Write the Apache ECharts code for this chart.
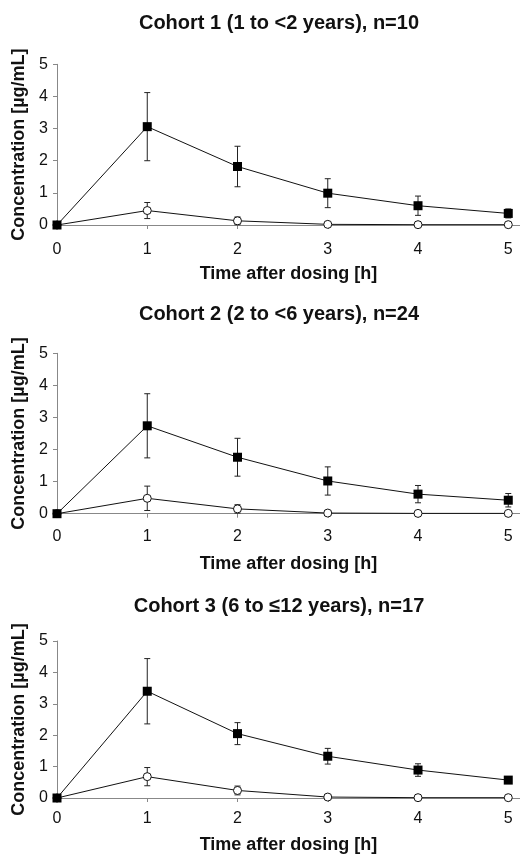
<!DOCTYPE html>
<html>
<head>
<meta charset="utf-8">
<script src="https://cdn.jsdelivr.net/npm/echarts@6/dist/echarts.min.js"></script>
<style>
html,body{margin:0;padding:0;background:#fff;}
#chart{width:520px;height:855px;}
</style>
</head>
<body>
<div id="chart"></div>
<script>
// ---- Data ----
const times = [0, 1, 2, 3, 4, 5];
const titles = [
  "Cohort 1 (1 to <2 years), n=10",
  "Cohort 2 (2 to <6 years), n=24",
  "Cohort 3 (6 to \u226412 years), n=17"
];
// filled squares: mean and SD
const sqMean1 = [0, 3.06, 1.82, 0.99, 0.60, 0.36];
const sqSD1   = [0, 1.06, 0.63, 0.45, 0.30, 0.14];
const ciMean1 = [0, 0.45, 0.13, 0.02, 0.01, 0.01];
const ciSD1   = [0, 0.25, 0.12, 0, 0, 0];

const sqMean2 = [0, 2.74, 1.76, 1.02, 0.61, 0.42];
const sqSD2   = [0, 1.00, 0.59, 0.44, 0.27, 0.21];
const ciMean2 = [0, 0.48, 0.15, 0.02, 0.01, 0.01];
const ciSD2   = [0, 0.38, 0.13, 0, 0, 0];

const sqMean3 = [0, 3.40, 2.05, 1.33, 0.89, 0.57];
const sqSD3   = [0, 1.04, 0.35, 0.25, 0.20, 0.05];
const ciMean3 = [0, 0.68, 0.24, 0.03, 0.01, 0.01];
const ciSD3   = [0, 0.29, 0.14, 0, 0, 0];

const yTicks = [0, 1, 2, 3, 4, 5];
const xTicks = [0, 1, 2, 3, 4, 5];
const yTitle = "Concentration [\u00b5g/mL]";
const xTitle = "Time after dosing [h]";

const panels = [
  {sq: sqMean1, sqSD: sqSD1, ci: ciMean1, ciSD: ciSD1},
  {sq: sqMean2, sqSD: sqSD2, ci: ciMean2, ciSD: ciSD2},
  {sq: sqMean3, sqSD: sqSD3, ci: ciMean3, ciSD: ciSD3}
];

// ---- Layout ----
const layout = [
  {titleY: 22, top: 64.3, bottom: 225, lblMargin: 17, nameGap: 40},
  {titleY: 313, top: 353.3, bottom: 513.7, lblMargin: 15, nameGap: 41},
  {titleY: 605, top: 641, bottom: 801, lblMargin: 13, nameGap: 38}
];
const FONT = "Liberation Sans, Arial, sans-serif";

const chart = echarts.init(document.getElementById('chart'), null, {renderer: 'canvas'});

const option = {
  backgroundColor: '#fff',
  animation: false,
  title: [], grid: [], xAxis: [], yAxis: [], series: []
};

function errRender(params, api) {
  const x = api.value(0), lo = api.value(1), hi = api.value(2);
  if (hi - lo <= 0) return null;
  const pLo = api.coord([x, lo]);
  const pHi = api.coord([x, hi]);
  const cw = 3;
  const style = {stroke: '#222', lineWidth: 1};
  return {
    type: 'group',
    children: [
      {type: 'line', shape: {x1: pLo[0], y1: pLo[1], x2: pHi[0], y2: pHi[1]}, style},
      {type: 'line', shape: {x1: pHi[0]-cw, y1: pHi[1], x2: pHi[0]+cw, y2: pHi[1]}, style},
      {type: 'line', shape: {x1: pLo[0]-cw, y1: pLo[1], x2: pLo[0]+cw, y2: pLo[1]}, style}
    ]
  };
}

panels.forEach((p, i) => {
  const L = layout[i];
  option.title.push({
    text: titles[i], left: 274, textAlign: 'center', top: L.titleY - 14,
    textStyle: {fontFamily: FONT, fontWeight: 'bold', fontSize: 20, color: '#111'}
  });
  option.grid.push({left: 57, right: 0, top: L.top, height: L.bottom - L.top, containLabel: false});
  option.xAxis.push({
    type: 'value', gridIndex: i, min: 0, max: 5.13,
    name: xTitle, nameLocation: 'middle', nameGap: L.nameGap,
    nameTextStyle: {fontFamily: FONT, fontWeight: 'bold', fontSize: 18, color: '#111'},
    axisLine: {show: true, lineStyle: {color: '#888', width: 1}},
    axisTick: {show: true, length: 4, lineStyle: {color: '#888'}, customValues: xTicks},
    axisLabel: {fontFamily: FONT, fontSize: 16, color: '#111', margin: L.lblMargin, customValues: xTicks},
    splitLine: {show: false}
  });
  option.yAxis.push({
    type: 'value', gridIndex: i, min: 0, max: 5, interval: 1,
    name: yTitle, nameLocation: 'middle', nameGap: 21, nameRotate: 90,
    nameTextStyle: {fontFamily: FONT, fontWeight: 'bold', fontSize: 18, color: '#111'},
    axisLine: {show: true, lineStyle: {color: '#888', width: 1}},
    axisTick: {show: true, length: 4, lineStyle: {color: '#888'}},
    axisLabel: {fontFamily: FONT, fontSize: 16, color: '#111', margin: 9, customValues: yTicks},
    splitLine: {show: false}
  });
  const errSq = times.map((t, k) => [t, p.sq[k] - p.sqSD[k], p.sq[k] + p.sqSD[k]]);
  const errCi = times.map((t, k) => [t, p.ci[k] - p.ciSD[k], p.ci[k] + p.ciSD[k]]);
  option.series.push({
    type: 'custom', xAxisIndex: i, yAxisIndex: i, renderItem: errRender,
    data: errSq, z: 1, clip: false
  });
  option.series.push({
    type: 'custom', xAxisIndex: i, yAxisIndex: i, renderItem: errRender,
    data: errCi, z: 1, clip: false
  });
  option.series.push({
    type: 'line', xAxisIndex: i, yAxisIndex: i, z: 3,
    data: times.map((t, k) => [t, p.ci[k]]),
    symbol: 'circle', symbolSize: 8, showAllSymbol: true,
    lineStyle: {color: '#111', width: 1},
    itemStyle: {color: '#fff', borderColor: '#111', borderWidth: 1}
  });
  option.series.push({
    type: 'line', xAxisIndex: i, yAxisIndex: i, z: 4,
    data: times.map((t, k) => [t, p.sq[k]]),
    symbol: 'rect', symbolSize: 9, showAllSymbol: true,
    lineStyle: {color: '#111', width: 1},
    itemStyle: {color: '#000', borderColor: '#000', borderWidth: 0}
  });
});

chart.setOption(option);
</script>
</body>
</html>
